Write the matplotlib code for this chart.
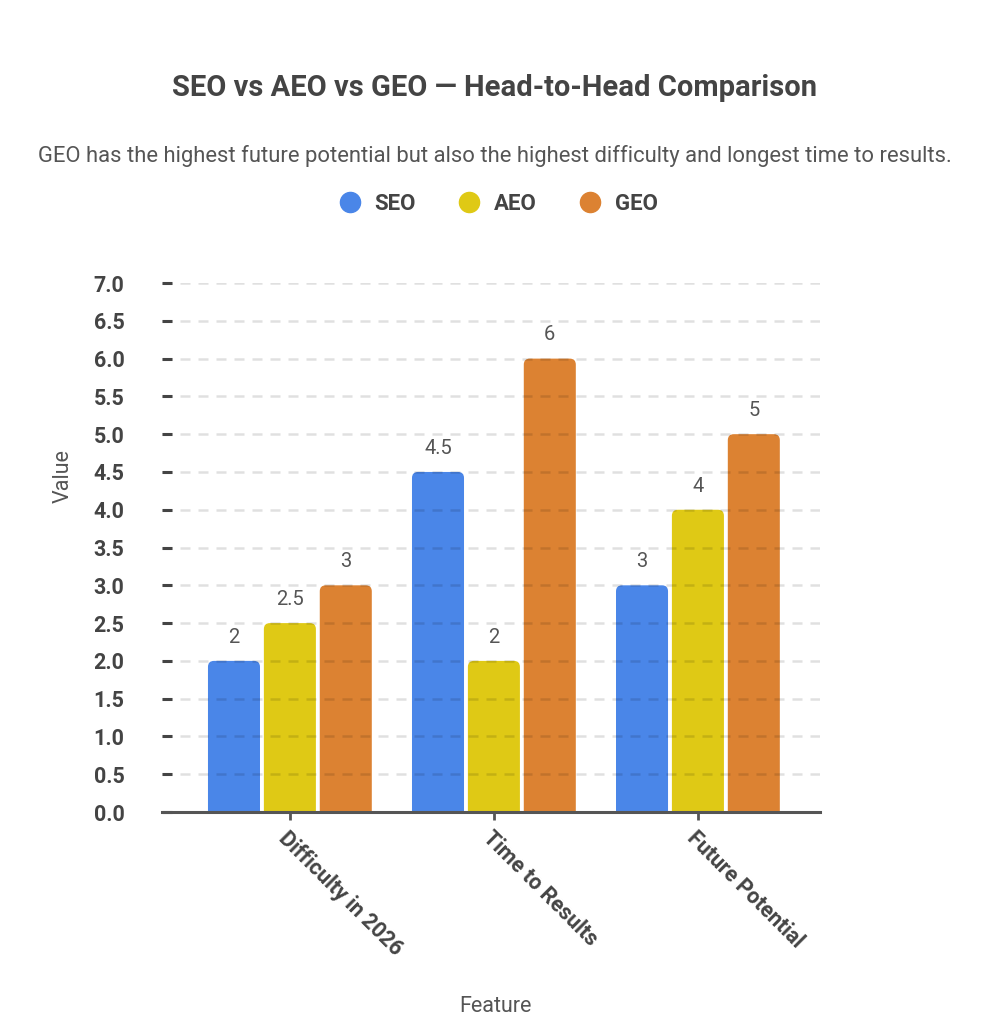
import numpy as np
import matplotlib.pyplot as plt
from matplotlib.patches import FancyBboxPatch
from matplotlib.lines import Line2D

plt.rcParams['font.family'] = ['Roboto', 'DejaVu Sans']

features = ['Difficulty in 2026', 'Time to Results', 'Future Potential']
series = ['SEO', 'AEO', 'GEO']
seo = [2, 4.5, 3]
aeo = [2.5, 2, 4]
geo = [3, 6, 5]
labels_seo = ['2', '4.5', '3']
labels_aeo = ['2.5', '2', '4']
labels_geo = ['3', '6', '5']
yticks = np.arange(0, 7.01, 0.5)

colors = ['#4a86e8', '#dfc915', '#dc8232']
dark = '#444444'

fig = plt.figure(figsize=(9.9, 10.24), dpi=100)
ax = fig.add_axes([0.1636, 0.207, 0.6646, 0.5166])

x = np.arange(len(features))
width = 0.255
step = 0.274
ax.set_xlim(-0.627, 2.598)
ax.set_ylim(0, 7)

# rounded top corners, ~6 px in both directions
px_x = 0.6646 * 990 / (2.598 + 0.627)
px_y = 0.5166 * 1024 / 7.0
rad = 6 / px_x
aspect = px_x / px_y

for i, (vals, labs) in enumerate(zip([seo, aeo, geo], [labels_seo, labels_aeo, labels_geo])):
    bars = ax.bar(x + (i - 1) * step, vals, width, color=colors[i])
    for b, lab in zip(bars, labs):
        bx, bw, bh = b.get_x(), b.get_width(), b.get_height()
        b.set_visible(False)
        p = FancyBboxPatch((bx, -0.3), bw, bh + 0.3,
                           boxstyle=f"round,pad=0,rounding_size={rad}",
                           mutation_aspect=aspect, fc=colors[i], ec='none',
                           zorder=1)
        ax.add_patch(p)
        ax.annotate(lab, (bx + bw / 2, bh), xytext=(0, 17), textcoords='offset points',
                    ha='center', va='center', fontsize=14.5, color='#555555')

ax.set_yticks(yticks)
ax.set_yticklabels([f'{v:.1f}' for v in yticks], fontsize=15.5, fontweight='bold', color=dark)
ax.tick_params(axis='y', direction='in', length=7.2, width=2.2, color=dark, pad=27)
ax.set_xticks(x)
ax.set_xticklabels(features, fontsize=15.5, fontweight='bold', color=dark,
                   rotation=-45, ha='left', va='top', rotation_mode='anchor')
ax.tick_params(axis='x', direction='out', length=6, width=2, color='#555555', pad=5)

ax.set_axisbelow(False)
ax.yaxis.grid(True, color='#000000', alpha=0.12, linewidth=1.8, linestyle=(0, (4, 3.2)))
for s in ['left', 'right', 'top']:
    ax.spines[s].set_visible(False)
ax.spines['bottom'].set_color('#555555')
ax.spines['bottom'].set_linewidth(2.2)
ax.spines['bottom'].set_zorder(3)

fig.text(0.064, 0.535, 'Value', rotation=90, ha='center', va='center', fontsize=15.5, color='#555555')
fig.text(0.5, 1 - 1007 / 1024, 'Feature', ha='center', va='center', fontsize=15.5, color='#555555')

fig.text(0.5, 1 - 88 / 1024, 'SEO vs AEO vs GEO \u2014 Head-to-Head Comparison',
         ha='center', va='center', fontsize=21, fontweight='bold', color=dark)
fig.text(0.5, 1 - 156 / 1024,
         'GEO has the highest future potential but also the highest difficulty and longest time to results.',
         ha='center', va='center', fontsize=15.8, color='#555555')

handles = [Line2D([], [], marker='o', linestyle='none', markersize=14.5,
                  markerfacecolor=c, markeredgecolor=c) for c in colors]
leg = fig.legend(handles, series, loc='center', bbox_to_anchor=(0.5, 1 - 204 / 1024),
                 ncol=3, frameon=False, handletextpad=0.3, handlelength=1.6, columnspacing=1.6,
                 prop={'size': 16, 'weight': 'bold'})
for t in leg.get_texts():
    t.set_color(dark)

fig.savefig('out.png', dpi=100, facecolor='white')
